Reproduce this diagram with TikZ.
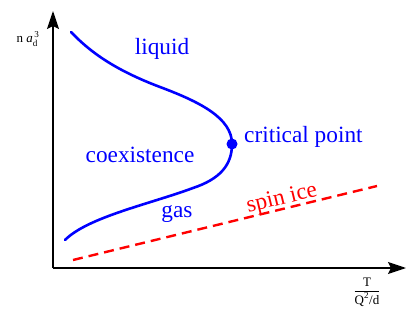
\documentclass[tikz,border=0pt]{standalone}
\usepackage{fontspec}
\usepackage{amsmath}
\setmainfont{Liberation Serif}
\usetikzlibrary{arrows.meta}
\definecolor{pblue}{RGB}{0,0,255}
\definecolor{pred}{RGB}{255,0,0}
\begin{document}
\begin{tikzpicture}[x=1pt,y=-1pt,
  axis/.style={line width=1.4pt, -{Stealth[length=18pt,width=12pt,inset=3pt]}},
  phase/.style={pblue, line width=2.6pt, line cap=round},
  spinline/.style={pred, line width=2.4pt, dash pattern=on 10pt off 6pt},
  lbl/.style={pblue, inner sep=0pt, font=\fontsize{23.3}{27}\selectfont},
  axlbl/.style={inner sep=0pt, font=\fontsize{13}{15}\selectfont}]
\useasboundingbox (0,0) rectangle (415,321);
\coordinate (O) at (53,268);
\coordinate (ytip) at (53,11);
\coordinate (xtip) at (406,268);
\draw[axis] (O) -- (ytip);
\draw[axis] (O) -- (xtip);
% coexistence curve
\coordinate (top) at (71,32);
\coordinate (m1) at (160,87);
\coordinate (m2) at (193,188);
\coordinate (bot) at (65,240);
\node[circle, fill=pblue, inner sep=0pt, minimum size=11pt] (cp) at (232,144) {};
\draw[phase] (top) .. controls (90,52) and (115,70) .. (m1)
  .. controls (200,102) and (232,118) .. (cp.center)
  .. controls (232,165) and (220,179) .. (m2)
  .. controls (150,204) and (88,217) .. (bot);
% spin ice
\coordinate (s1) at (73,260);
\coordinate (s2) at (377,186);
\draw[spinline] (s1) -- (s2);
% labels
\node[lbl] (liq) at (162,49) {liquid};
\node[lbl] (coex) at (140,155) {coexistence};
\node[lbl] (gas) at (177,214) {gas};
\node[lbl, anchor=west] (crit) at (244,137) {critical point};
\node[lbl, pred, rotate=13.7] (spin) at (282,199) {spin ice};
\node[axlbl] (ylab) at (28,39) {n \textit{a}$_{\text{d}}^{\,\text{3}}$};
\node[axlbl] (xlab) at (367,292) {$\dfrac{\text{T}}{\text{Q}^{\text{2}}\text{/d}}$};
\end{tikzpicture}
\end{document}
